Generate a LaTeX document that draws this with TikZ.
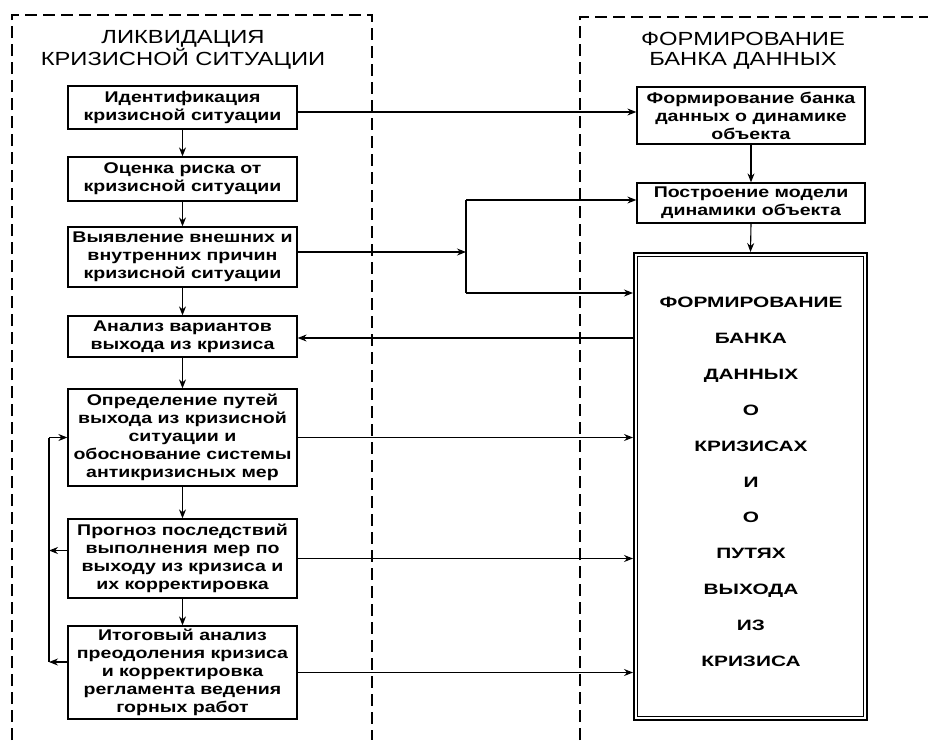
\documentclass[tikz,border=0pt]{standalone}
\usepackage{fontspec}
\setmainfont{Liberation Sans}
\newfontfamily\boxfont{Liberation Sans}[FakeStretch=1.26]
\newfontfamily\titlefont{Liberation Sans}[FakeStretch=1.25]
\newfontfamily\bigfont{Liberation Sans}[FakeStretch=1.39]
\usetikzlibrary{arrows.meta,calc}
\begin{document}
\begin{tikzpicture}[x=1pt,y=-1pt,
  frame/.style={line width=1.6pt,dash pattern=on 12pt off 6pt},
  box/.style={draw,line width=1.3pt,minimum width=229pt,inner sep=0pt,align=center,
    font=\boxfont\bfseries\fontsize{15.5}{18}\selectfont},
  rbox/.style={box,minimum width=228pt},
  arr/.style={line width=1.1pt,-{Stealth[length=9pt,width=7pt,inset=3pt]}},
  ln/.style={line width=1.1pt},
  ttl/.style={align=center,font=\titlefont\fontsize{19}{20}\selectfont},
  btxt/.style={font=\bigfont\bfseries\fontsize{15}{18}\selectfont,text height=11pt,text depth=0pt,inner sep=0pt}]
\useasboundingbox (0,0) rectangle (928,740);
% dashed frames
\draw[frame] (12,740) -- (12,15) -- (372,15) -- (372,740);
\draw[frame] (580,740) -- (580,17) -- (928,17);
% titles
\node[ttl] (tl) at (183,50) {ЛИКВИДАЦИЯ\\КРИЗИСНОЙ СИТУАЦИИ};
\node[ttl] (tr) at (743,50.5) {ФОРМИРОВАНИЕ\\БАНКА ДАННЫХ};
% left boxes
\node[box,minimum height=43pt] (b1) at (182.5,107.5) {Идентификация\\кризисной ситуации};
\node[box,minimum height=44pt] (b2) at (182.5,179) {Оценка риска от\\кризисной ситуации};
\node[box,minimum height=60pt] (b3) at (182.5,257) {Выявление внешних и\\внутренних причин\\кризисной ситуации};
\node[box,minimum height=41pt] (b4) at (182.5,336.5) {Анализ вариантов\\выхода из кризиса};
\node[box,minimum height=97pt] (b5) at (182.5,437.5) {Определение путей\\выхода из кризисной\\ситуации и\\обоснование системы\\антикризисных мер};
\node[box,minimum height=79pt] (b6) at (182.5,558.5) {Прогноз последствий\\выполнения мер по\\выходу из кризиса и\\их корректировка};
\node[box,minimum height=93pt] (b7) at (182.5,672.5) {Итоговый анализ\\преодоления кризиса\\и корректировка\\регламента ведения\\горных работ};
% right boxes
\node[rbox,minimum height=57pt] (r1) at (751,115.5) {Формирование банка\\данных о динамике\\объекта};
\node[rbox,minimum height=40pt] (r2) at (751,203) {Построение модели\\динамики объекта};
\node[draw,line width=2pt,minimum width=233pt,minimum height=467pt,inner sep=0pt] (bb) at (750.5,486.5) {};
\draw[line width=0.9pt] ([shift={(4pt,-4.5pt)}]bb.north west) rectangle ([shift={(-4.5pt,4.5pt)}]bb.south east);
\foreach \t [count=\i] in {ФОРМИРОВАНИЕ,БАНКА,ДАННЫХ,О,КРИЗИСАХ,И,О,ПУТЯХ,ВЫХОДА,ИЗ,КРИЗИСА}
  \node[btxt] (bt\i) at (751,{302+35.9*(\i-1)}) {\t};
% vertical flow
\foreach \a/\b in {b1/b2,b2/b3,b3/b4,b4/b5,b5/b6,b6/b7}
  \draw[arr] (\a.south) -- (\b.north);
\draw[arr] (r1.south) -- (r2.north);
\draw[arr] (r2.south) -- (bb.north);
% box1 -> r1
\draw[arr] ($(b1.east)+(0,4.5)$) coordinate (s1) -- (s1 -| r1.west);
% box3 -> junction -> r2 / bb
\coordinate (jt) at (466,200);
\coordinate (jb) at (466,293);
\draw[arr] ($(b3.east)+(0,-5)$) coordinate (s3) -- (s3 -| jt);
\draw[ln] (jt) -- (jb);
\draw[arr] (jt) -- (jt -| r2.west);
\draw[arr] (jb) -- (jb -| bb.west);
% bb -> box4
\draw[arr] ($(bb.west |- b4.east)+(0,1.5)$) coordinate (s4) -- (s4 -| b4.east);
% boxes 5,6,7 -> bb
\draw[arr] (b5.east) -- (b5.east -| bb.west);
\draw[arr] (b6.east) -- (b6.east -| bb.west);
\draw[arr] (b7.east) -- (b7.east -| bb.west);
% feedback loop
\coordinate (fl) at (49,0);
\draw[ln] (fl |- b5.west) -- ($(fl |- b7.west)+(0,-10.5)$);
\draw[arr] (fl |- b5.west) -- (b5.west);
\draw[arr] ($(b6.west)+(0,-8)$) coordinate (s6) -- (s6 -| fl);
\draw[arr] ($(b7.west)+(0,-10.5)$) coordinate (s7) -- (s7 -| fl);
\end{tikzpicture}
\end{document}
